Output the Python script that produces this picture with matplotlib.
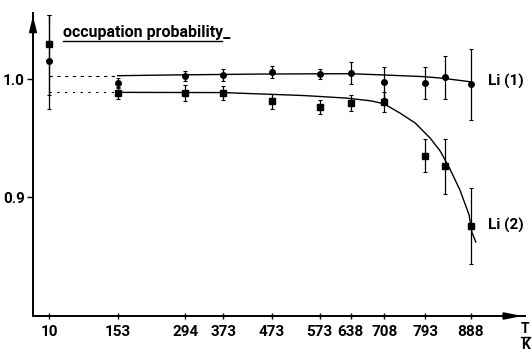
import matplotlib
matplotlib.use("Agg")
import matplotlib.pyplot as plt
from matplotlib.lines import Line2D

plt.rcParams['font.family'] = ['Roboto', 'DejaVu Sans']
plt.rcParams['font.weight'] = 'bold'

# temperatures (K) of the measurements
temps = [10, 153, 294, 373, 473, 573, 638, 708, 793, 833, 888]
tick_temps = [10, 153, 294, 373, 473, 573, 638, 708, 793, 888]

# Li(1) occupation and errors
li1 = [1.015, 0.9966, 1.0025, 1.0034, 1.006, 1.0042, 1.005, 0.9972, 0.9965, 1.0014, 0.9955]
li1_err_lo = [0.040, 0.004, 0.004, 0.005, 0.005, 0.004, 0.009, 0.013, 0.0135, 0.018, 0.030]
li1_err_hi = [0.039, 0.004, 0.004, 0.005, 0.005, 0.004, 0.009, 0.013, 0.0135, 0.018, 0.030]

# Li(2) occupation and errors
li2 = [1.0297, 0.988, 0.988, 0.988, 0.981, 0.976, 0.9797, 0.9805, 0.935, 0.926, 0.8755]
li2_err_lo = [0.043, 0.005, 0.007, 0.006, 0.006, 0.006, 0.007, 0.0085, 0.014, 0.023, 0.032]
li2_err_hi = [0.0245, 0.005, 0.007, 0.006, 0.006, 0.006, 0.007, 0.0085, 0.014, 0.023, 0.032]

# guide curves
li1_fit_t = [153, 262, 450, 636, 708, 790, 830, 886]
li1_fit = [1.0028, 1.0034, 1.0042, 1.0045, 1.0034, 1.002, 1.0006, 0.9977]
li2_fit_t = [153, 373, 540, 630, 680, 707, 740, 772, 803, 824, 844, 865, 884, 890, 898]
li2_fit = [0.9887, 0.9885, 0.986, 0.9838, 0.9815, 0.979, 0.9712, 0.9627, 0.950, 0.939, 0.924, 0.906, 0.885, 0.870, 0.862]
low_t = [10, 153]

fig = plt.figure(figsize=(5.32, 3.52), dpi=100)
ax = fig.add_axes([33 / 532, 1 - 316 / 352, 492 / 532, 303 / 352])

ax.plot(low_t, [li1_fit[0]] * 2, color='k', lw=0.8, ls=(0, (3, 4)))
ax.plot(low_t, [li2_fit[0]] * 2, color='k', lw=0.8, ls=(0, (2, 5)))
ax.plot(li1_fit_t, li1_fit, color='k', lw=1.0)
ax.plot(li2_fit_t, li2_fit, color='k', lw=1.0)

ax.errorbar(temps, li2, yerr=[li2_err_lo, li2_err_hi], fmt='s', color='k', ms=4.5,
            elinewidth=0.9, capsize=1.5, capthick=0.8)
ax.errorbar(temps, li1, yerr=[li1_err_lo, li1_err_hi], fmt='o', color='k', ms=4,
            elinewidth=0.9, capsize=1.5, capthick=0.8)

ax.set_xlim(-23.3, 1000.4)
ax.set_ylim(0.7993, 1.0559)
ax.set_xticks(tick_temps)
ax.set_xticklabels([str(t) for t in tick_temps])
ax.set_yticks([0.9, 1.0])
ax.set_yticklabels(['0.9', '1.0'])
ax.tick_params(axis='x', direction='inout', length=5, width=1, labelsize=11, pad=4)
ax.tick_params(axis='y', direction='out', length=4, width=1, labelsize=11, pad=2)

for s in ['top', 'right']:
    ax.spines[s].set_visible(False)
for s in ['left', 'bottom']:
    ax.spines[s].set_linewidth(1.4)

# arrow heads on the axes
ax.annotate('', xy=(0, 1), xytext=(0, 0.93), xycoords='axes fraction',
            arrowprops=dict(arrowstyle='-|>,head_length=0.9,head_width=0.22', color='k', lw=1.4))
ax.annotate('', xy=(1, 0), xytext=(0.95, 0), xycoords='axes fraction',
            arrowprops=dict(arrowstyle='-|>,head_length=1.0,head_width=0.2', color='k', lw=1.4))

ax.text(39, 1.039, 'occupation probability_', fontsize=11.5, va='center', ha='left')
fig.add_artist(Line2D([63 / 532, 222 / 532], [1 - 41 / 352] * 2, color='k', lw=1))

ax.text(923, 0.9983, 'Li (1)', fontsize=11, va='center', ha='left', clip_on=False)
ax.text(923, 0.8763, 'Li (2)', fontsize=11, va='center', ha='left', clip_on=False)

fig.text(521 / 532, 1 - 329 / 352, 'T', fontsize=10, va='center', ha='left')
fig.add_artist(Line2D([521 / 532, 530 / 532], [1 - 337 / 352] * 2, color='k', lw=1))
fig.text(521 / 532, 1 - 345 / 352, 'K', fontsize=10, va='center', ha='left')

fig.savefig('out.png', dpi=100)
